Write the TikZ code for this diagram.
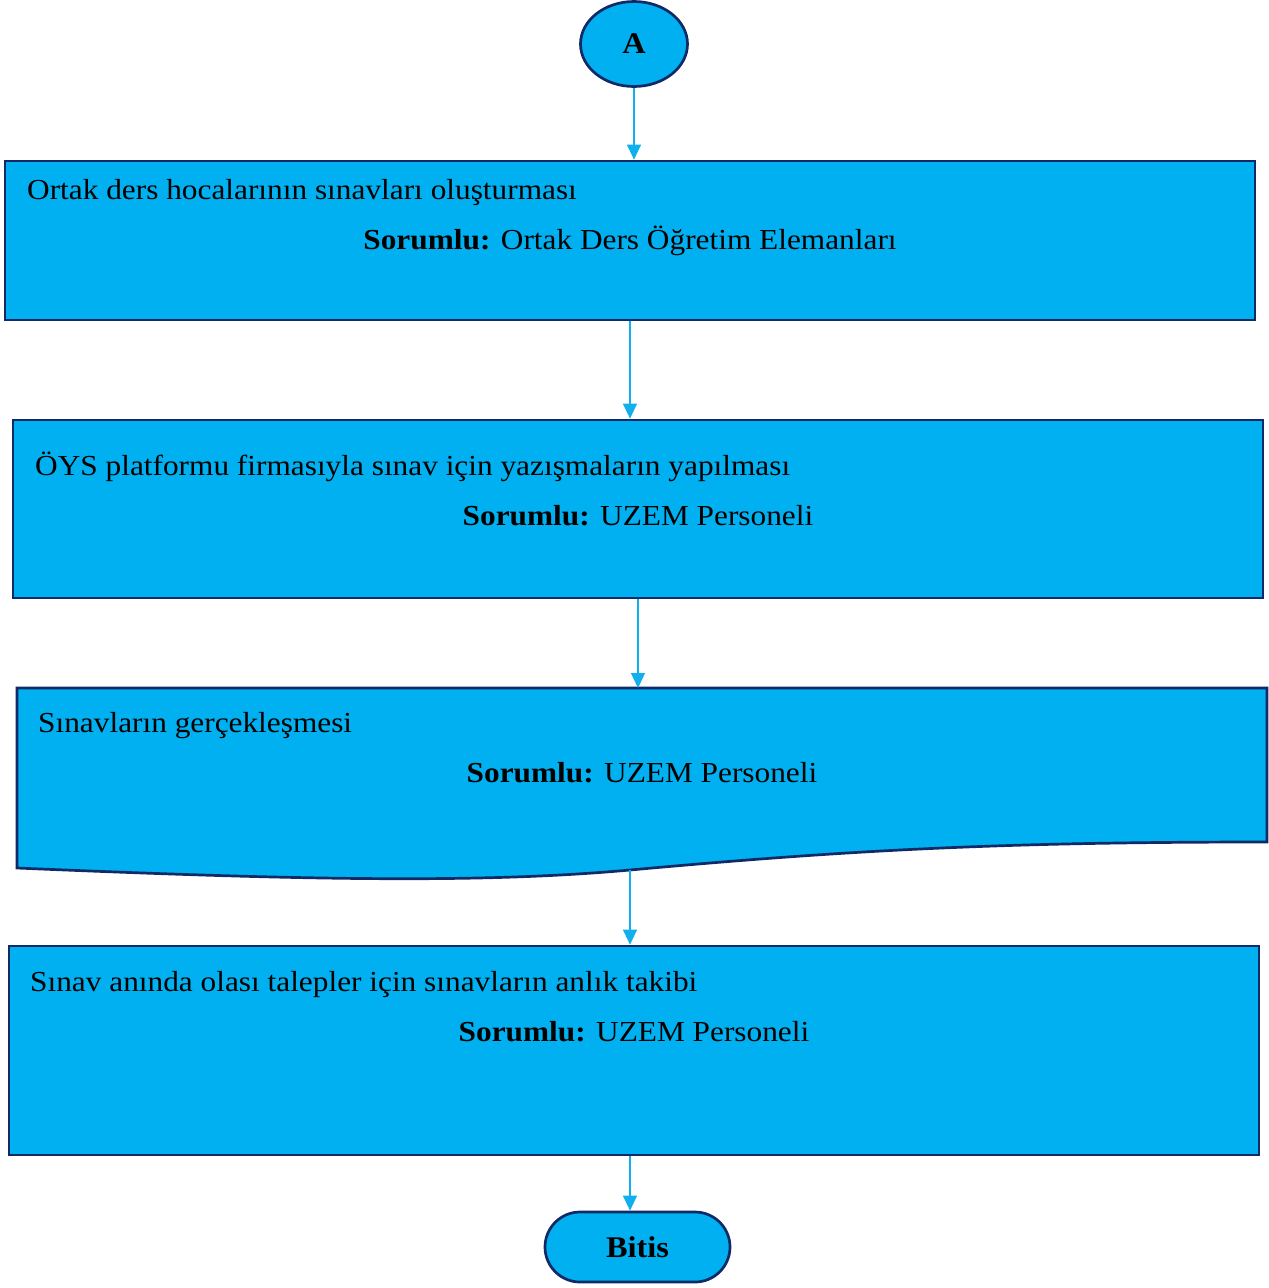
\documentclass[tikz,border=0pt]{standalone}
\usepackage{fontspec}
\setmainfont{Liberation Serif}[FakeStretch=1.08]
\usetikzlibrary{shapes.geometric,arrows.meta}
\definecolor{fillblue}{HTML}{00B0F0}
\definecolor{edgeblue}{HTML}{0F2A66}
\definecolor{arrblue}{HTML}{10B0EE}
\tikzset{
  box/.style={draw=edgeblue,line width=2.7pt,fill=fillblue,rectangle,inner sep=0pt},
  txt/.style={font=\fontsize{29}{32}\selectfont,inner sep=0pt,text=black},
  arr/.style={draw=arrblue,line width=1.3pt,-{Triangle[length=15pt,width=14pt]}},
}
\begin{document}
\begin{tikzpicture}[x=1pt,y=-1pt]
\useasboundingbox (0,0) rectangle (1269,1288);
% start
\node[box,ellipse,minimum width=107pt,minimum height=85pt,font=\fontsize{30}{32}\selectfont\bfseries] (A) at (634,44) {A};
% box 1
\node[box,minimum width=1250pt,minimum height=159pt] (b1) at (630,240.5) {};
\node[txt,anchor=base west] (t1) at (27,199) {Ortak ders hocalarının sınavları oluşturması};
\node[txt,anchor=base] (s1) at (630,249) {\textbf{Sorumlu:} Ortak Ders Öğretim Elemanları};
% box 2
\node[box,minimum width=1250pt,minimum height=178pt] (b2) at (638,509) {};
\node[txt,anchor=base west] (t2) at (35,475) {ÖYS platformu firmasıyla sınav için yazışmaların yapılması};
\node[txt,anchor=base] (s2) at (638,525) {\textbf{Sorumlu:} UZEM Personeli};
% box 3 (document shape)
\coordinate (b3nw) at (17,688);
\coordinate (b3ne) at (1267,688);
\coordinate (b3n) at (638,688);
\coordinate (b3s) at (630,870);
\draw[draw=edgeblue,line width=2.7pt,fill=fillblue,line join=miter]
  (b3nw) -- (b3ne) -- (1267,842)
  .. controls (1000,842) and (850,850) .. (b3s)
  .. controls (480,883.6) and (300,880) .. (17,868) -- cycle;
\node[txt,anchor=base west] (t3) at (38,732) {Sınavların gerçekleşmesi};
\node[txt,anchor=base] (s3) at (642,782) {\textbf{Sorumlu:} UZEM Personeli};
% box 4
\node[box,minimum width=1250pt,minimum height=209pt] (b4) at (634,1050.5) {};
\node[txt,anchor=base west] (t4) at (30,991) {Sınav anında olası talepler için sınavların anlık takibi};
\node[txt,anchor=base] (s4) at (634,1041) {\textbf{Sorumlu:} UZEM Personeli};
% end
\node[box,rounded corners=35pt,minimum width=185pt,minimum height=70pt,font=\fontsize{30}{32}\selectfont\bfseries] (E) at (637.5,1247) {Bitis};
% connectors
\draw[arr] (A.south) -- (A.south |- b1.north);
\draw[arr] (b1.south) -- (b1.south |- b2.north);
\draw[arr] (b2.south) -- (b2.south |- b3n);
\draw[arr] (b3s) -- (b3s |- b4.north);
\draw[arr] ([xshift=-4pt]b4.south) -- ([xshift=-4pt]b4.south |- E.north);
\end{tikzpicture}
\end{document}
